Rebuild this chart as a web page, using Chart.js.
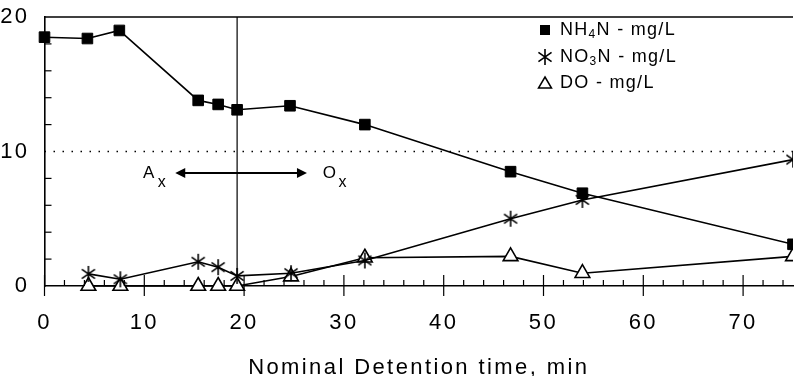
<!DOCTYPE html>
<html>
<head>
<meta charset="utf-8">
<script src="https://cdn.jsdelivr.net/npm/chart.js@4"></script>
<style>
  body { margin: 0; background: #fff; }
</style>
</head>
<body>
<canvas id="detention_chart" width="794" height="376"></canvas>
<script>
// nominal detention time (min) and concentrations (mg/L)
const nh4Time = [0, 4.3, 7.5, 15.4, 17.4, 19.3, 24.6, 32.1, 46.7, 53.9, 75];
const nh4N = [18.5, 18.4, 19.0, 13.8, 13.5, 13.1, 13.4, 12.0, 8.5, 6.9, 3.1];
const no3Time = [4.4, 7.6, 15.4, 17.4, 19.3, 24.7, 32.1, 46.7, 53.9, 75];
const no3N = [0.9, 0.5, 1.8, 1.4, 0.75, 0.95, 1.9, 5.0, 6.4, 9.4];
const doTime = [4.4, 7.6, 15.4, 17.4, 19.3, 24.7, 32.1, 46.7, 53.9, 75];
const dissolvedO2 = [0, 0, 0, 0, 0, 0.7, 2.1, 2.2, 0.95, 2.2];

const xTicks = [0, 10, 20, 30, 40, 50, 60, 70];
const yTicks = [0, 10, 20];
const phaseBoundary = 19.3;

const FONT = "'Liberation Sans', Arial, sans-serif";

function asteriskImage(r) {
    const c = document.createElement('canvas');
    c.width = c.height = 2 * r + 2;
    const g = c.getContext('2d');
    const m = r + 1;
    g.strokeStyle = '#000';
    g.lineWidth = 1.6;
    g.beginPath();
    [90, 35, 145].forEach(a => {
        const t = a * Math.PI / 180;
        g.moveTo(m - r * Math.cos(t), m - r * Math.sin(t));
        g.lineTo(m + r * Math.cos(t), m + r * Math.sin(t));
    });
    g.stroke();
    return c;
}
const star = asteriskImage(8);

function pts(xs, ys) {
    return xs.map((t, i) => ({ x: t, y: ys[i] }));
}

function seg(ctx, x1, y1, x2, y2) {
    ctx.beginPath();
    ctx.moveTo(x1, y1);
    ctx.lineTo(x2, y2);
    ctx.stroke();
}

const decor = {
    id: 'decor',
    beforeDraw(chart) {
        chart.ctx.letterSpacing = '2.4px';
    },
    beforeDatasetsDraw(chart) {
        const { ctx, chartArea: a, scales: { x, y } } = chart;
        ctx.save();
        ctx.strokeStyle = '#000';
        ctx.lineWidth = 1.6;
        seg(ctx, a.left, a.top, a.right, a.top);
        ctx.lineWidth = 1.2;
        const bx = x.getPixelForValue(phaseBoundary);
        seg(ctx, bx, a.top, bx, a.bottom);
        ctx.setLineDash([1.5, 7.5]);
        ctx.lineWidth = 1.3;
        const y10 = y.getPixelForValue(10);
        seg(ctx, a.left, y10, a.right, y10);
        ctx.restore();
    },
    afterDraw(chart) {
        const { ctx, chartArea: a, scales: { x, y } } = chart;
        ctx.save();
        ctx.strokeStyle = '#000';
        ctx.fillStyle = '#000';
        ctx.lineWidth = 1.2;
        // axis ticks
        for (let v = 0; v <= 74; v += 2) {
            const px = x.getPixelForValue(v);
            if (v % 10 === 0) seg(ctx, px, a.bottom - 11, px, a.bottom + 10);
            else seg(ctx, px, a.bottom - 6, px, a.bottom);
        }
        for (let v = 2; v < 20; v += 2) {
            if (v === 10) continue;
            const py = y.getPixelForValue(v);
            seg(ctx, a.left, py, a.left + 7, py);
        }

        // Ax <-> Ox annotation
        ctx.letterSpacing = '1px';
        ctx.textAlign = 'center';
        ctx.textBaseline = 'middle';
        ctx.font = '17px ' + FONT;
        ctx.fillText('A', x.getPixelForValue(10.5), y.getPixelForValue(8.4));
        ctx.fillText('O', x.getPixelForValue(28.6), y.getPixelForValue(8.4));
        ctx.font = '16px ' + FONT;
        ctx.fillText('x', x.getPixelForValue(11.8), y.getPixelForValue(7.66));
        ctx.fillText('x', x.getPixelForValue(29.9), y.getPixelForValue(7.66));
        const ay = y.getPixelForValue(8.4);
        const ax1 = x.getPixelForValue(13.1), ax2 = x.getPixelForValue(26.3);
        ctx.lineWidth = 2;
        seg(ctx, ax1 + 6, ay, ax2 - 6, ay);
        ctx.beginPath();
        ctx.moveTo(ax1, ay); ctx.lineTo(ax1 + 10, ay - 5); ctx.lineTo(ax1 + 10, ay + 5); ctx.closePath();
        ctx.moveTo(ax2, ay); ctx.lineTo(ax2 - 10, ay - 5); ctx.lineTo(ax2 - 10, ay + 5); ctx.closePath();
        ctx.fill();

        // legend
        const rows = [
            { parts: ['NH', '4', 'N - mg/L'], y: 30 },
            { parts: ['NO', '3', 'N - mg/L'], y: 57 },
            { parts: ['DO - mg/L'], y: 83 }
        ];
        const mx = 545, tx = 560;
        ctx.fillRect(mx - 5, rows[0].y - 5, 10, 10);
        ctx.drawImage(star, mx - star.width / 2, rows[1].y - star.height / 2);
        ctx.lineWidth = 1.5;
        ctx.beginPath();
        ctx.moveTo(mx, rows[2].y - 6);
        ctx.lineTo(mx + 6.5, rows[2].y + 5);
        ctx.lineTo(mx - 6.5, rows[2].y + 5);
        ctx.closePath();
        ctx.stroke();

        ctx.textAlign = 'left';
        ctx.letterSpacing = '1.3px';
        rows.forEach(r => {
            let cx = tx;
            r.parts.forEach((p, i) => {
                const sub = i === 1;
                ctx.font = (sub ? '12px ' : '18px ') + FONT;
                ctx.fillText(p, cx, r.y + (sub ? 5 : 0));
                cx += ctx.measureText(p).width;
            });
        });
        ctx.restore();
    }
};

new Chart(document.getElementById('detention_chart').getContext('2d'), {
    type: 'line',
    data: {
        datasets: [{
            label: 'NH4N - mg/L',
            data: pts(nh4Time, nh4N),
            borderColor: '#000',
            borderWidth: 1.6,
            pointStyle: 'rect',
            pointRadius: 7.5,
            pointBackgroundColor: '#000',
            pointBorderColor: '#000',
            pointBorderWidth: 1,
            clip: { left: 12, top: 12, right: 0, bottom: 12 }
        }, {
            label: 'NO3N - mg/L',
            data: pts(no3Time, no3N),
            borderColor: '#000',
            borderWidth: 1.6,
            pointStyle: star,
            clip: { left: 12, top: 12, right: 0, bottom: 12 }
        }, {
            label: 'DO - mg/L',
            data: pts(doTime, dissolvedO2),
            borderColor: '#000',
            borderWidth: 1.6,
            pointStyle: 'triangle',
            pointRadius: 8.5,
            pointBackgroundColor: '#fff',
            pointBorderColor: '#000',
            pointBorderWidth: 1.6,
            clip: { left: 12, top: 12, right: 0, bottom: 12 }
        }]
    },
    options: {
        responsive: false,
        animation: false,
        layout: { autoPadding: false, padding: { top: 17, right: 1, left: 0, bottom: 0 } },
        plugins: {
            legend: { display: false },
            tooltip: { enabled: false }
        },
        scales: {
            x: {
                type: 'linear',
                min: 0,
                max: 75,
                afterFit: s => { s.height = 90; s.paddingLeft = 0; s.paddingRight = 0; },
                afterBuildTicks: s => { s.ticks = xTicks.map(v => ({ value: v })); },
                grid: { display: false },
                border: { display: true, color: '#000', width: 1.6 },
                ticks: { color: '#000', font: { family: FONT, size: 22 }, padding: 16, maxRotation: 0, autoSkip: false },
                title: {
                    display: true,
                    text: 'Nominal Detention time, min',
                    color: '#000',
                    font: { family: FONT, size: 22, lineHeight: 0.77 },
                    padding: 0
                }
            },
            y: {
                min: 0,
                max: 20,
                afterFit: s => { s.width = 44.5; s.paddingTop = 0; s.paddingBottom = 0; },
                afterBuildTicks: s => { s.ticks = yTicks.map(v => ({ value: v })); },
                grid: { display: false },
                border: { display: true, color: '#000', width: 1.6 },
                ticks: { color: '#000', font: { family: FONT, size: 22 }, padding: 7 }
            }
        }
    },
    plugins: [decor]
});
</script>
</body>
</html>
